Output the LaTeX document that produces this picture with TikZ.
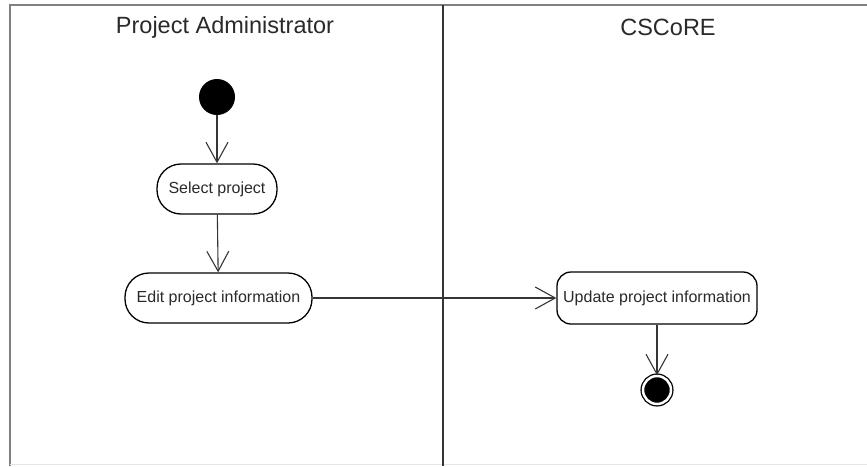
\documentclass[tikz,border=0pt]{standalone}
\usepackage{fontspec}
\setmainfont{Liberation Sans}
\usetikzlibrary{arrows.meta}
\definecolor{framegray}{HTML}{808080}
\definecolor{divgray}{HTML}{353535}
\definecolor{txtgray}{HTML}{2A2A2A}
\tikzset{
  lane/.style={font=\fontsize{23.5}{26}\selectfont, text=txtgray},
  act/.style={rectangle, rounded corners=24pt, draw=black, line width=1.3pt, minimum height=50pt,
    font=\fontsize{16}{19}\selectfont, text=txtgray, fill=white},
  actr/.style={rectangle, rounded corners=14pt, draw=black, line width=1.3pt, minimum height=52pt,
    font=\fontsize{16}{19}\selectfont, text=txtgray, fill=white},
  flow/.style={draw=divgray, line width=1.1pt, -{Straight Barb[length=20pt,width=22pt,line width=1.1pt]}},
  startnode/.style={circle, fill=black, minimum size=36pt, inner sep=0pt},
  endnode/.style={circle, draw=black, line width=1.3pt, fill=black, minimum size=28pt, inner sep=0pt,
    double=white, double distance=2.5pt},
}
\begin{document}
\begin{tikzpicture}[x=1pt,y=-1pt]
\useasboundingbox (0,0) rectangle (867,466);
\fill[white] (0,0) rectangle (867,466);
% frame
\draw[framegray, line width=2.2pt] (10,466) -- (10,5) -- (867,5);
\draw[black!10, line width=1pt] (10,464.5) -- (867,464.5);
\draw[divgray, line width=2pt] (443,5) -- (443,466);
% lane titles
\node[lane] (pa) at (225,27) {Project Administrator};
\node[lane] (cs) at (668,27) {CSCoRE};
% nodes
\node[startnode] (start) at (217,97) {};
\node[act, minimum width=120pt] (sel) at (217,189) {Select project};
\node[act, minimum width=187pt] (edit) at (218.5,298) {Edit project information};
\node[actr, minimum width=200pt] (upd) at (657,298) {Update project information};
\node[endnode] (end) at (657,390) {};
% flows
\draw[flow] (start) -- (sel);
\draw[flow] (sel) -- (edit);
\draw[flow] (edit) -- (upd);
\draw[flow] (upd) -- (end.north);
\end{tikzpicture}
\end{document}
